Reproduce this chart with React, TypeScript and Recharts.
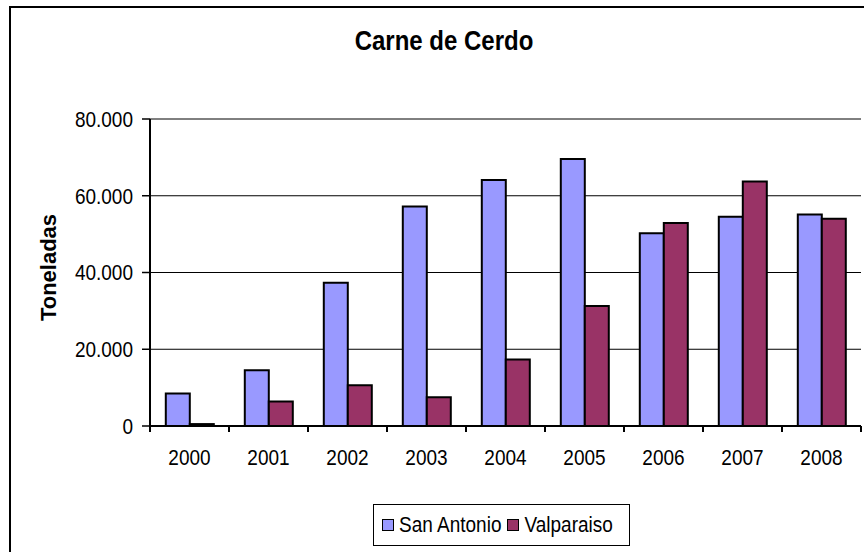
import React from 'react';
import {
  Bar,
  BarChart,
  CartesianGrid,
  Legend,
  XAxis,
  YAxis,
} from 'recharts';

const YEARS = ['2000', '2001', '2002', '2003', '2004', '2005', '2006', '2007', '2008'];
const SAN_ANTONIO = [8500, 14500, 37300, 57200, 64100, 69600, 50200, 54500, 55100];
const VALPARAISO = [500, 6400, 10600, 7500, 17300, 31300, 52900, 63700, 54000];
const Y_TICKS = [0, 20000, 40000, 60000, 80000];

const SERIES = [
  { key: 'sanAntonio', name: 'San Antonio', color: '#9999ff' },
  { key: 'valparaiso', name: 'Valparaiso', color: '#993366' },
];

const data = YEARS.map((year, i) => ({
  year,
  sanAntonio: SAN_ANTONIO[i],
  valparaiso: VALPARAISO[i],
}));

const FONT = '"Liberation Sans", Arial, sans-serif';
const W = 864;
const H = 552;
const MARGIN = { top: 119, right: 3, bottom: 66, left: 0 };
const Y_AXIS_W = 150;
const BAND = (W - MARGIN.right - MARGIN.left - Y_AXIS_W) / YEARS.length;
const STRETCH = 1.15; // the original text is a little taller than wide

const fmt = (v: number) =>
  v === 0 ? '0' : String(v).replace(/\B(?=(\d{3})+(?!\d))/g, '.');

const tall = (x: number, y: number) =>
  `translate(${x} ${y}) scale(1 ${STRETCH}) translate(${-x} ${-y})`;

// Excel puts category ticks between the groups, not under them
const XTick = (props: any) => {
  const { x, y, payload, index } = props;
  const axisY = y - 24;
  const half = BAND / 2;
  const base = y + 15;
  return (
    <g>
      <line x1={x - half} x2={x - half} y1={axisY} y2={axisY + 6} stroke="#000" strokeWidth={2} />
      {index === YEARS.length - 1 && (
        <line x1={x + half} x2={x + half} y1={axisY} y2={axisY + 6} stroke="#000" strokeWidth={2} />
      )}
      <text
        x={x}
        y={base}
        transform={tall(x, base)}
        textAnchor="middle"
        fontFamily={FONT}
        fontSize={19}
        fill="#000"
      >
        {payload.value}
      </text>
    </g>
  );
};

const YTick = (props: any) => {
  const { x, y, payload } = props;
  return (
    <text
      x={x}
      y={y}
      transform={tall(x, y)}
      textAnchor="end"
      dominantBaseline="central"
      fontFamily={FONT}
      fontSize={19}
      fill="#000"
    >
      {fmt(payload.value)}
    </text>
  );
};

const YLabel = (props: any) => {
  const vb = props.viewBox || {};
  const cx = 48;
  const cy = (vb.y ?? 119) + (vb.height ?? 307) / 2 - 5;
  return (
    <text
      x={cx}
      y={cy}
      transform={`rotate(-90 ${cx} ${cy})`}
      textAnchor="middle"
      dominantBaseline="central"
      fontFamily={FONT}
      fontWeight="bold"
      fontSize={22}
      fill="#000"
    >
      Toneladas
    </text>
  );
};

const LegendBox = () => (
  <div
    style={{
      border: '1.5px solid #000',
      boxSizing: 'border-box',
      width: 257,
      height: 42,
      display: 'flex',
      alignItems: 'center',
      paddingLeft: 8,
      fontFamily: FONT,
      fontSize: 19,
      color: '#000',
      background: '#fff',
    }}
  >
    {SERIES.map((s) => (
      <span key={s.key} style={{ display: 'flex', alignItems: 'center', marginRight: 6 }}>
        <span
          style={{
            display: 'inline-block',
            width: 12,
            height: 12,
            boxSizing: 'border-box',
            background: s.color,
            border: '1.5px solid #000',
            marginRight: 5,
          }}
        />
        <span style={{ display: 'inline-block', transform: `scaleY(${STRETCH})` }}>{s.name}</span>
      </span>
    ))}
  </div>
);

export default function App() {
  return (
    <div
      style={{
        position: 'absolute',
        left: 0,
        top: 0,
        width: W,
        height: H,
        overflow: 'hidden',
        background: '#fff',
      }}
    >
      <div
        style={{
          position: 'absolute',
          left: 9,
          top: 6,
          width: W + 20,
          height: H + 20,
          borderLeft: '2px solid #000',
          borderTop: '2px solid #000',
        }}
      />
      <div
        style={{
          position: 'absolute',
          left: 0,
          width: 888,
          top: 29,
          textAlign: 'center',
          fontFamily: FONT,
          fontWeight: 'bold',
          fontSize: 24,
          lineHeight: '24px',
          transform: `scaleY(${STRETCH})`,
        }}
      >
        Carne de Cerdo
      </div>
      <BarChart
        width={W}
        height={H}
        data={data}
        margin={MARGIN}
        barCategoryGap="20%"
        barGap={0}
        style={{ position: 'absolute', left: 0, top: 0 }}
      >
        <CartesianGrid vertical={false} stroke="#000" strokeWidth={1} />
        <XAxis
          dataKey="year"
          height={60}
          tickSize={6}
          tickMargin={18}
          tickLine={false}
          axisLine={{ stroke: '#000', strokeWidth: 2 }}
          tick={<XTick />}
          interval={0}
        />
        <YAxis
          width={Y_AXIS_W}
          domain={[0, 80000]}
          ticks={Y_TICKS}
          tickSize={8}
          tickMargin={9}
          tick={<YTick />}
          tickLine={{ stroke: '#000', strokeWidth: 1.5 }}
          axisLine={{ stroke: '#000', strokeWidth: 2 }}
          label={<YLabel />}
        />
        <YAxis
          yAxisId="frame"
          orientation="right"
          width={0}
          tick={false}
          tickLine={false}
          axisLine={{ stroke: '#999', strokeWidth: 2 }}
        />
        {SERIES.map((s) => (
          <Bar
            key={s.key}
            dataKey={s.key}
            name={s.name}
            fill={s.color}
            stroke="#000"
            strokeWidth={2}
            isAnimationActive={false}
          />
        ))}
        <Legend
          layout="horizontal"
          verticalAlign="middle"
          align="center"
          content={<LegendBox />}
          wrapperStyle={{ position: 'absolute', left: 373, top: 504, width: 257, height: 42 }}
        />
      </BarChart>
    </div>
  );
}
